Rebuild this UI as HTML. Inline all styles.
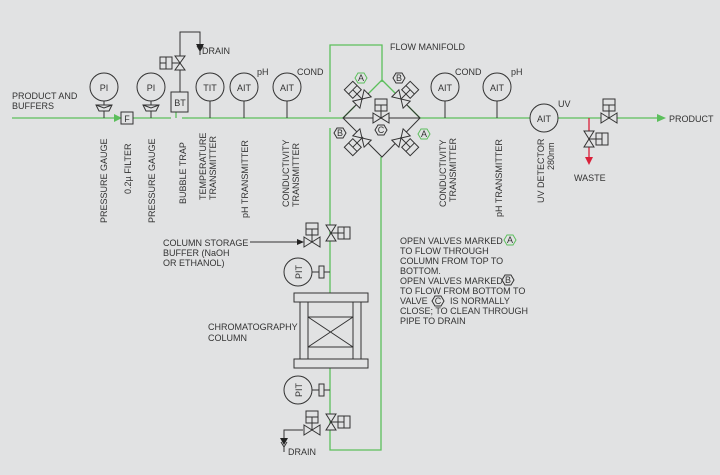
<!DOCTYPE html>
<html><head><meta charset="utf-8"><style>
html,body{margin:0;padding:0;background:#e1e2e3}
svg{display:block}
text{font-family:"Liberation Sans",sans-serif;font-size:9px;fill:#333}
</style></head><body>
<svg width="720" height="475" viewBox="0 0 720 475" xmlns="http://www.w3.org/2000/svg">
<defs>
<g id="vh" fill="none" stroke="#333" stroke-width="1">
<path d="M-8,-5 L8,5 L8,-5 L-8,5 Z" fill="#e1e2e3"/>
<path d="M0,0 V-7"/><rect x="-6" y="-19" width="12" height="12" fill="#e1e2e3"/><path d="M-6,-13 H6 M0,-13 V-7"/>
</g>
<g id="vv" fill="none" stroke="#333" stroke-width="1">
<path d="M-5,-8 L5,8 L-5,8 L5,-8 Z" fill="#e1e2e3"/>
<path d="M0,0 H7"/><rect x="7" y="-6" width="12" height="12" fill="#e1e2e3"/><path d="M13,-6 V6 M7,0 H13"/>
</g>
<g id="gauge" fill="#e1e2e3" stroke="#333"><path d="M-8,-3 L8,-3 L5,3 L-5,3 Z"/><path d="M-8,-3 L0,0 L8,-3" fill="none"/></g>
</defs>
<!-- main line -->
<g stroke="#5cbf5c" stroke-width="1.3" fill="none">
<path d="M12,118 H121"/><path d="M133,118 H171"/><path d="M182,118 H188"/><path d="M176,112 V118"/>
<path d="M188,118 H343"/><path d="M420,118 H530"/><path d="M558,118 H657"/>
<path d="M330,112 V45 H382 V82"/><path d="M330,128 V293"/><path d="M330,368 V450 H381 V157"/>
<path d="M343,118 L355,106"/><path d="M420,118 L408,106"/><path d="M382,80 L369,93"/><path d="M382,80 L395,93"/>
</g>
<polygon points="114,114 122,118 114,122" fill="#5cbf5c"/>
<polygon points="657,114 666,118 657,122" fill="#5cbf5c"/>
<!-- red waste -->
<path d="M589,118 V157" stroke="#d9213a" stroke-width="1.3"/>
<polygon points="585,157 589,165 593,157" fill="#d9213a"/>
<g fill="none" stroke="#333" stroke-width="1">
<circle cx="104" cy="87" r="14"/><path d="M104,101 V118"/>
<circle cx="151" cy="87" r="14"/><path d="M151,101 V118"/>
<rect x="121" y="112" width="12" height="12"/>
<rect x="171" y="92" width="17" height="20"/>
<path d="M180,92 V70"/><path d="M180,56 V32 H200 V45"/>
<circle cx="210" cy="87" r="14"/><path d="M210,101 V118"/>
<circle cx="244" cy="87" r="14"/><path d="M244,101 V118"/>
<circle cx="287" cy="87" r="14"/><path d="M287,101 V118"/>
<path d="M197,46 L200,51 L203,46 M200,51 V55"/>
<path d="M355,106 L343,118 L382,157 L420,118 L408,106 M369,93 L355,106 M395,93 L408,106"/>
<path d="M343,118 H420"/>
<circle cx="445" cy="87" r="14"/><path d="M445,101 V118"/>
<circle cx="497" cy="87" r="14"/><path d="M497,101 V118"/>
<circle cx="544" cy="118" r="14"/>
<rect x="294" y="293" width="74" height="9"/><rect x="294" y="359" width="74" height="9"/>
<rect x="300" y="302" width="8" height="57"/><rect x="353" y="302" width="8" height="57"/>
<rect x="308" y="317" width="45" height="30"/><path d="M308,317 L353,347 M353,317 L308,347"/>
<circle cx="298" cy="272" r="14"/><path d="M312,272 H330"/>
<circle cx="298" cy="390" r="14"/><path d="M312,390 H330"/>
<path d="M250,242 H300"/>
<path d="M303,430 H284 V440"/>
<path d="M281,442 L284,447 L287,442 M284,447 V452"/>
</g>
<polygon points="297,239 304,242 297,245" fill="#222"/>
<polygon points="280,438 284,445 288,438" fill="#222"/>
<polygon points="196,44 200,51 204,44" fill="#222"/>
<use href="#gauge" x="104" y="108"/><use href="#gauge" x="151" y="108"/>
<g fill="#e1e2e3" stroke="#333"><rect x="319" y="266" width="5" height="12"/><rect x="319" y="384" width="5" height="12"/></g>
<g transform="translate(180,63)"><path d="M-5,-7 L5,7 L-5,7 L5,-7 Z" fill="#e1e2e3" stroke="#333"/><path d="M0,0 H-8" stroke="#333"/><rect x="-20" y="-6" width="12" height="12" fill="#e1e2e3" stroke="#333"/><path d="M-14,-6 V6 M-20,0 H-14" stroke="#333"/></g>
<use href="#vh" x="381" y="118"/>
<use href="#vh" x="609" y="118"/>
<use href="#vv" x="589" y="139"/>
<use href="#vh" x="312" y="242"/>
<use href="#vv" x="331" y="233"/>
<use href="#vh" x="312" y="430"/>
<use href="#vv" x="331" y="422"/>
<use href="#vh" transform="translate(362,99) rotate(-45)"/>
<use href="#vh" transform="translate(401,99) rotate(45)"/>
<use href="#vh" transform="translate(362,138) rotate(-135)"/>
<use href="#vh" transform="translate(401,138) rotate(135)"/>
<g fill="none" stroke-width="1">
<polygon points="355,78 358,73 364,73 367,78 364,83 358,83" stroke="#5cbf5c"/>
<polygon points="393,78 396,73 402,73 405,78 402,83 396,83" stroke="#333"/>
<polygon points="334,133 337,128 343,128 346,133 343,138 337,138" stroke="#333"/>
<polygon points="375,130 378,125 384,125 387,130 384,135 378,135" stroke="#333"/>
<polygon points="418,134 421,129 427,129 430,134 427,139 421,139" stroke="#5cbf5c"/>
<polygon points="504,240 507,235 513,235 516,240 513,245 507,245" stroke="#5cbf5c"/>
<polygon points="502,280 505,275 511,275 514,280 511,285 505,285" stroke="#333"/>
<polygon points="432,301 435,296 441,296 444,301 441,306 435,306" stroke="#333"/>
</g>
<g font-size="8" text-anchor="middle">
<text x="361" y="81">A</text><text x="399" y="81">B</text><text x="340" y="136">B</text><text x="381" y="133">C</text><text x="424" y="137">A</text>
<text x="510" y="243">A</text><text x="508" y="283">B</text><text x="438" y="304">C</text>
</g>
<g font-size="10" text-anchor="middle">
<text x="104" y="91">PI</text><text x="151" y="91">PI</text><text x="127" y="122">F</text><text x="180" y="106">BT</text>
<text x="210" y="91">TIT</text><text x="244" y="91">AIT</text><text x="287" y="91">AIT</text>
<text x="445" y="91">AIT</text><text x="497" y="91">AIT</text><text x="544" y="122">AIT</text>
<text transform="translate(302,272) rotate(-90)">PIT</text>
<text transform="translate(302,390) rotate(-90)">PIT</text>
</g>
<text x="202" y="54">DRAIN</text>
<text x="257" y="75">pH</text><text x="297" y="75">COND</text>
<text x="455" y="75">COND</text><text x="511" y="75">pH</text><text x="558" y="107">UV</text>
<text x="390" y="50">FLOW MANIFOLD</text>
<text x="12" y="99">PRODUCT AND</text><text x="12" y="109">BUFFERS</text>
<text x="669" y="122">PRODUCT</text><text x="574" y="181">WASTE</text>
<text x="163" y="246">COLUMN STORAGE</text><text x="163" y="256">BUFFER (NaOH</text><text x="163" y="266">OR ETHANOL)</text>
<text x="208" y="330">CHROMATOGRAPHY</text><text x="208" y="341">COLUMN</text>
<text x="288" y="455">DRAIN</text>
<g>
<text x="400" y="244">OPEN VALVES MARKED</text>
<text x="400" y="254">TO FLOW THROUGH</text>
<text x="400" y="264">COLUMN FROM TOP TO</text>
<text x="400" y="274">BOTTOM.</text>
<text x="400" y="284">OPEN VALVES MARKED</text>
<text x="400" y="294">TO FLOW FROM BOTTOM TO</text>
<text x="400" y="304">VALVE</text><text x="450" y="304">IS NORMALLY</text>
<text x="400" y="314">CLOSE; TO CLEAN THROUGH</text>
<text x="400" y="324">PIPE TO DRAIN</text>
</g>
<g>
<text transform="translate(107,223) rotate(-90)">PRESSURE GAUGE</text>
<text transform="translate(131,194) rotate(-90)">0.2µ FILTER</text>
<text transform="translate(155,223) rotate(-90)">PRESSURE GAUGE</text>
<text transform="translate(186,204) rotate(-90)">BUBBLE TRAP</text>
<text transform="translate(206,200) rotate(-90)">TEMPERATURE</text>
<text transform="translate(216,200) rotate(-90)">TRANSMITTER</text>
<text transform="translate(248,218) rotate(-90)">pH TRANSMITTER</text>
<text transform="translate(289,207) rotate(-90)">CONDUCTIVITY</text>
<text transform="translate(299,207) rotate(-90)">TRANSMITTER</text>
<text transform="translate(446,207) rotate(-90)">CONDUCTIVITY</text>
<text transform="translate(456,202) rotate(-90)">TRANSMITTER</text>
<text transform="translate(502,217) rotate(-90)">pH TRANSMITTER</text>
<text transform="translate(544,203) rotate(-90)">UV DETECTOR</text>
<text transform="translate(554,170) rotate(-90)">280nm</text>
</g>
</svg>
</body></html>
